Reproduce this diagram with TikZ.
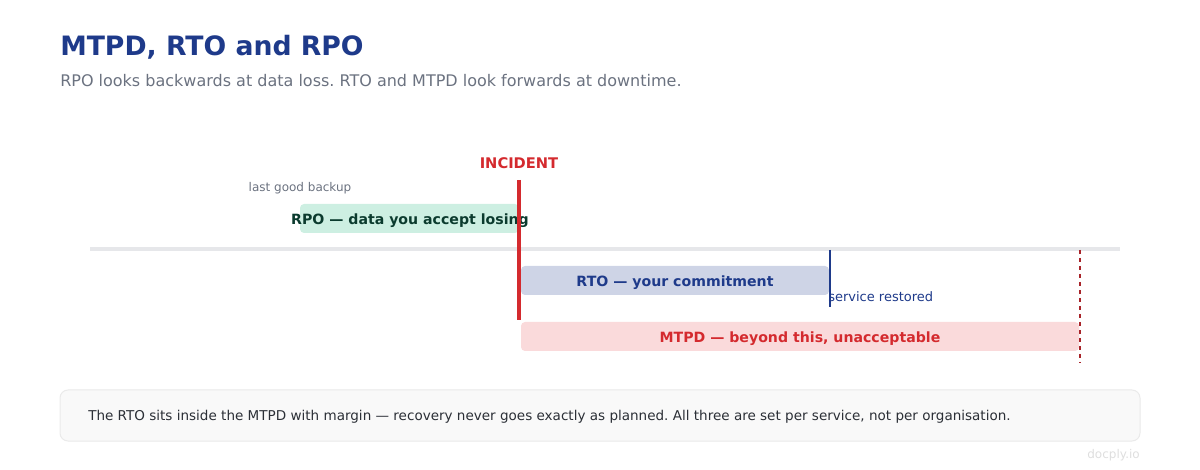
\documentclass[tikz,border=0pt]{standalone}
\usepackage{fontspec}
\setmainfont{DejaVu Sans}
\usepackage{xcolor}
\usetikzlibrary{positioning,calc}
\frenchspacing
\definecolor{navy}{HTML}{1E3A8A}
\definecolor{subgray}{HTML}{6B7280}
\definecolor{alarm}{HTML}{D42A2E}
\definecolor{darkred}{HTML}{A8242A}
\definecolor{mint}{HTML}{CDEFE2}
\definecolor{mintink}{HTML}{0B3B2E}
\definecolor{lavender}{HTML}{CED4E6}
\definecolor{blush}{HTML}{FADADB}
\definecolor{axisgray}{HTML}{E6E7EA}
\definecolor{notefill}{HTML}{F9F9F9}
\definecolor{noteline}{HTML}{EAEAEA}
\definecolor{noteink}{HTML}{2B2F36}
\tikzset{
  lbl/.style={inner sep=0pt},
  barlabel/.style={inner sep=0pt,font=\bfseries\fontsize{10.6}{12}\selectfont},
  bar/.style={rounded corners=3pt}
}

\begin{document}
\begin{tikzpicture}[x=0.75pt,y=-0.75pt]
    \useasboundingbox (0,0) rectangle (1200,470);
    % Heading
    \node[lbl,anchor=west,text=navy,font=\bfseries\fontsize{20}{24}\selectfont] (title) at (60,47) {MTPD, RTO and RPO};
    \node[lbl,anchor=west,text=subgray,font=\fontsize{12}{14}\selectfont] (subtitle) at (60,81) {RPO looks backwards at data loss. RTO and MTPD look forwards at downtime.};
    % Timeline
    \coordinate (t0) at (90,249);
    \coordinate (t1) at (1120,249);
    \draw[axisgray,line width=2.4pt] (t0) -- (t1);
    % RPO bar
    \fill[mint,bar] (300,204) rectangle (519,233);
    \node[barlabel,text=mintink] (rpo) at (410,220.5) {RPO --- data you accept losing};
    \node[lbl,text=subgray,font=\fontsize{9}{11}\selectfont] (backup) at (300,188.5) {last good backup};
    % Incident
    \coordinate (inctop) at (519,180);
    \coordinate (incbot) at (519,320);
    \draw[alarm,line width=2.5pt] (inctop) -- (incbot);
    \node[lbl,text=alarm,font=\bfseries\fontsize{11}{13}\selectfont] (incident) at (519,163.5) {INCIDENT};
    % RTO bar
    \fill[lavender,bar] (521,266) rectangle (829,295);
    \node[barlabel,text=navy] (rto) at (675,282.5) {RTO --- your commitment};
    \coordinate (restop) at (830,250);
    \coordinate (resbot) at (830,307);
    \draw[navy,line width=1.3pt] (restop) -- (resbot);
    \node[lbl,anchor=west,text=navy,font=\fontsize{9.75}{12}\selectfont] (restored) at (828,297) {service restored};
    % MTPD bar
    \fill[blush,bar] (521,322) rectangle (1079,351);
    \node[barlabel,text=alarm] (mtpd) at (800,338.5) {MTPD --- beyond this, unacceptable};
    \coordinate (limtop) at (1080,250);
    \coordinate (limbot) at (1080,363);
    \draw[darkred,line width=1.3pt,dash pattern=on 3pt off 3pt] (limtop) -- (limbot);
    % Note
    \draw[noteline,fill=notefill,rounded corners=6pt,line width=0.75pt] (60,390) rectangle (1140,441);
    \node[lbl,anchor=west,text=noteink,font=\fontsize{10.15}{13}\selectfont] (note) at (88,417) {The RTO sits inside the MTPD with margin --- recovery never goes exactly as planned. All three are set per service, not per organisation.};
    \node[lbl,anchor=east,text=black!13,font=\fontsize{9}{11}\selectfont] (brand) at (1140,455) {docply.io};
\end{tikzpicture}
\end{document}
